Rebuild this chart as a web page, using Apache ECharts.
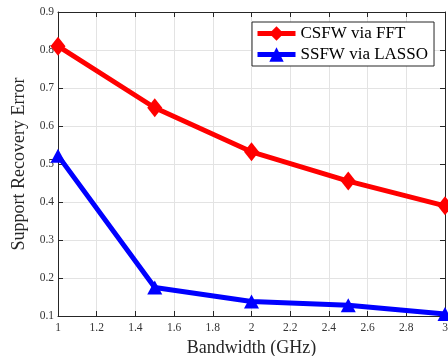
<!DOCTYPE html>
<html>
<head>
<meta charset="utf-8">
<script src="https://cdn.jsdelivr.net/npm/echarts@6/dist/echarts.min.js"></script>
<style>
  html, body { margin: 0; padding: 0; background: #fff; }
  #chart { width: 448px; height: 356px; }
</style>
</head>
<body>
<div id="chart"></div>
<script>
// bandwidth in GHz
const bandwidth = [1, 1.5, 2, 2.5, 3];
const csfwFft = [0.81, 0.648, 0.532, 0.455, 0.39];
const ssfwLasso = [0.522, 0.175, 0.138, 0.128, 0.105];

const serif = '"Liberation Serif", "DejaVu Serif", serif';
const axisColor = '#262626';

const chart = echarts.init(document.getElementById('chart'));

const fmt = v => String(Math.round(v * 10) / 10);

const baseX = {
  type: 'value', min: 1, max: 3, interval: 0.2,
  axisLine: { show: true, lineStyle: { color: axisColor, width: 1 } },
  axisTick: { show: true, inside: true, length: 5, lineStyle: { color: axisColor } },
  splitLine: { show: false }
};
const baseY = {
  type: 'value', min: 0.1, max: 0.9, interval: 0.1,
  axisLine: { show: true, lineStyle: { color: axisColor, width: 1 } },
  axisTick: { show: true, inside: true, length: 5, lineStyle: { color: axisColor } },
  splitLine: { show: false }
};

const option = {
  animation: false,
  backgroundColor: '#fff',
  grid: { left: 58, right: 3, top: 12, bottom: 40, outerBoundsMode: 'none' },
  legend: {
    orient: 'vertical',
    left: 252, top: 22,
    padding: [3, 6, 3, 3],
    itemGap: 4,
    itemWidth: 38, itemHeight: 18,
    borderColor: '#262626', borderWidth: 1,
    backgroundColor: '#fff',
    lineStyle: { width: 5 },
    textStyle: { fontFamily: serif, fontSize: 17, color: '#000' },
    data: ['CSFW via FFT', 'SSFW via LASSO']
  },
  xAxis: [
    Object.assign({}, baseX, {
      position: 'bottom',
      name: 'Bandwidth (GHz)', nameLocation: 'middle', nameGap: 17,
      nameTextStyle: { fontFamily: serif, fontSize: 18, color: axisColor },
      axisLabel: { fontFamily: serif, fontSize: 11.5, color: '#333', margin: 6, formatter: fmt },
      splitLine: { show: true, lineStyle: { color: '#e3e3e3', width: 1 } }
    }),
    Object.assign({}, baseX, { position: 'top', axisLabel: { show: false } })
  ],
  yAxis: [
    Object.assign({}, baseY, {
      position: 'left',
      name: 'Support Recovery Error', nameLocation: 'middle', nameGap: 25,
      nameTextStyle: { fontFamily: serif, fontSize: 18, color: axisColor },
      axisLabel: { fontFamily: serif, fontSize: 11.5, color: '#333', margin: 4, formatter: fmt },
      splitLine: { show: true, lineStyle: { color: '#e3e3e3', width: 1 } }
    }),
    Object.assign({}, baseY, { position: 'right', axisLabel: { show: false } })
  ],
  series: [
    {
      name: 'CSFW via FFT', type: 'line',
      data: bandwidth.map((b, i) => [b, csfwFft[i]]),
      symbol: 'diamond', symbolSize: [15, 19],
      lineStyle: { color: '#ff0000', width: 5 },
      itemStyle: { color: '#ff0000' },
      z: 3
    },
    {
      name: 'SSFW via LASSO', type: 'line',
      data: bandwidth.map((b, i) => [b, ssfwLasso[i]]),
      symbol: 'triangle', symbolSize: [15, 14],
      lineStyle: { color: '#0000ff', width: 5 },
      itemStyle: { color: '#0000ff' },
      z: 3
    }
  ]
};

chart.setOption(option);
</script>
</body>
</html>
